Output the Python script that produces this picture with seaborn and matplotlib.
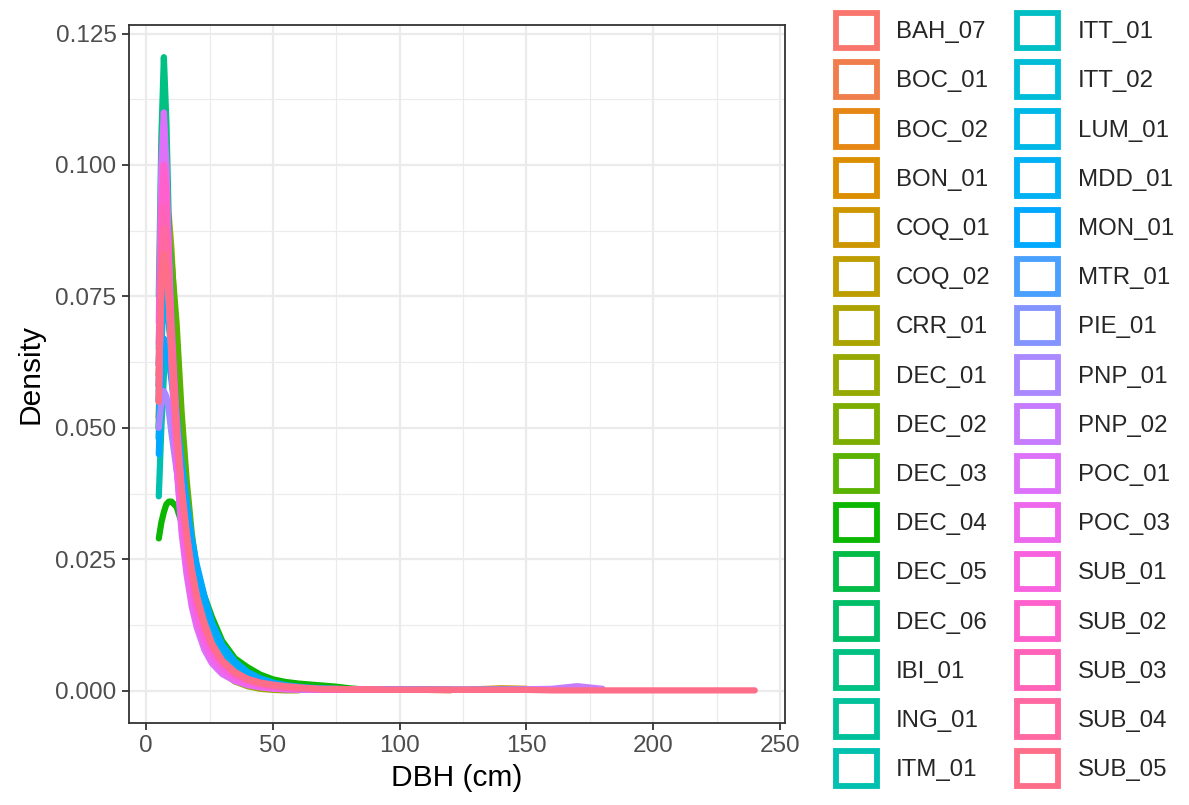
import math
import numpy as np
import pandas as pd
import matplotlib
matplotlib.use("Agg")
import matplotlib.pyplot as plt
from matplotlib.patches import Patch
import seaborn as sns

# ---------------- data ----------------
sites = ["BAH_07", "BOC_01", "BOC_02", "BON_01", "COQ_01", "COQ_02", "CRR_01",
         "DEC_01", "DEC_02", "DEC_03", "DEC_04", "DEC_05", "DEC_06", "IBI_01",
         "ING_01", "ITM_01", "ITT_01", "ITT_02", "LUM_01", "MDD_01", "MON_01",
         "MTR_01", "PIE_01", "PNP_01", "PNP_02", "POC_01", "POC_03", "SUB_01",
         "SUB_02", "SUB_03", "SUB_04", "SUB_05"]

# DBH (cm) positions at which the density curves were read
dbh_grid = [5, 6, 7, 8, 9, 10, 12, 14, 16, 18, 20, 23, 26, 30, 35, 40, 45, 50,
            55, 60, 65, 70, 75, 80, 85, 90, 95, 100, 110, 120, 130, 140, 150,
            160, 170, 180, 190, 200, 210, 220, 230, 240]

# density of each site along dbh_grid (each list stops at the site's largest DBH)
BAH_07 = [.058, .082, .090, .085, .075, .064, .047, .035, .027, .021, .016, .011, .0078, .0050, .0030, .0018, .0011, .0007,
          .0004, .0002]
BOC_01 = [.052, .075, .083, .080, .072, .063, .049, .038, .030, .023, .018, .013, .0092, .0060, .0036, .0022, .0014, .0009,
          .0006, .0004, .0003, .0003, .0002, .0002, .0002, .0002, .0002, .0002, .0002, .0001]
BOC_02 = [.060, .085, .092, .087, .076, .064, .046, .034, .026, .020, .015, .010, .0070, .0045, .0028, .0018, .0012, .0008,
          .0005, .0004, .0003, .0003, .0002, .0002, .0002, .0002, .0003, .0003]
BON_01 = [.055, .078, .086, .082, .073, .063, .048, .037, .029, .022, .017, .012, .0085, .0055, .0033, .0020, .0013, .0009,
          .0006, .0004, .0003, .0003, .0002, .0002, .0002, .0002, .0002, .0002, .0002, .0002, .0003, .0005, .0004]
COQ_01 = [.050, .072, .080, .078, .071, .063, .050, .039, .031, .024, .019, .013, .0095, .0062, .0038, .0024, .0016, .0011,
          .0008, .0006, .0004, .0003, .0003, .0002, .0002, .0002, .0002, .0002, .0002, .0002, .0002, .0002, .0002, .0002]
COQ_02 = [.062, .088, .095, .089, .077, .064, .045, .033, .025, .019, .014, .0095, .0065, .0040, .0024, .0014, .0009, .0006,
          .0004]
CRR_01 = [.055, .080, .090, .092, .090, .084, .064, .047, .035, .026, .020, .013, .0090, .0055, .0032, .0019, .0012, .0008,
          .0005, .0004, .0003, .0002]
DEC_01 = [.060, .086, .093, .088, .077, .065, .046, .034, .025, .019, .014, .0090, .0060, .0035, .0018, .0009, .0004, .0002,
          .0001, .0001]
DEC_02 = [.052, .074, .083, .082, .076, .068, .052, .039, .030, .023, .018, .012, .0085, .0052, .0030, .0018, .0011, .0007,
          .0005, .0003, .0002]
DEC_03 = [.050, .072, .083, .086, .085, .082, .070, .053, .040, .030, .023, .015, .010, .0062, .0036, .0022, .0014, .0010,
          .0007, .0005, .0004, .0003, .0002]
DEC_04 = [.029, .032, .034, .0355, .036, .036, .035, .032, .029, .026, .023, .018, .014, .0095, .0062, .0045, .0031, .0022,
          .0017, .0014, .0012, .0010, .0008, .0005, .0003]
DEC_05 = [.048, .070, .080, .080, .075, .068, .054, .042, .033, .026, .020, .014, .010, .0065, .0040, .0025, .0016, .0011,
          .0008, .0006, .0005, .0004, .0003, .0003, .0003, .0003, .0003, .0003, .0003, .0002]
DEC_06 = [.065, .092, .100, .093, .080, .067, .047, .035, .026, .020, .015, .010, .0070, .0044, .0026, .0016, .0010, .0007,
          .0005, .0004, .0003, .0002, .0002, .0002]
IBI_01 = [.075, .105, .1205, .108, .088, .070, .047, .033, .024, .018, .013, .0088, .0060, .0038, .0023, .0014, .0009, .0006,
          .0004, .0003, .0002, .0002, .0002, .0002, .0002, .0002]
ING_01 = [.058, .083, .091, .087, .077, .066, .048, .036, .027, .021, .016, .011, .0075, .0048, .0029, .0018, .0011, .0007,
          .0005, .0003, .0002, .0002]
ITM_01 = [.037, .050, .060, .064, .064, .061, .053, .044, .036, .029, .023, .016, .011, .0072, .0043, .0027, .0017, .0011,
          .0008, .0006, .0004, .0003, .0003, .0002, .0002]
ITT_01 = [.057, .081, .089, .085, .076, .065, .049, .037, .028, .022, .017, .012, .0082, .0052, .0031, .0019, .0012, .0008,
          .0006, .0004, .0003, .0003, .0002, .0002, .0002, .0002, .0002, .0002, .0002]
ITT_02 = [.062, .087, .094, .088, .077, .065, .047, .035, .026, .020, .015, .010, .0070, .0045, .0027, .0017, .0011, .0007,
          .0005, .0004, .0003, .0002, .0002, .0002, .0002, .0002, .0002]
LUM_01 = [.050, .070, .078, .077, .072, .065, .052, .041, .032, .025, .020, .014, .0098, .0064, .0039, .0024, .0015, .0010,
          .0007, .0005, .0004, .0003, .0003, .0003, .0003, .0003, .0003, .0003]
MDD_01 = [.048, .066, .074, .074, .070, .064, .052, .042, .033, .027, .021, .015, .011, .0072, .0044, .0028, .0018, .0012,
          .0009, .0007, .0005, .0004, .0003, .0003, .0003, .0003, .0003, .0003, .0002, .0002, .0002, .0003, .0003]
MON_01 = [.045, .060, .067, .066, .063, .059, .051, .043, .036, .029, .024, .018, .013, .0088, .0056, .0036, .0024, .0016,
          .0011, .0008, .0006, .0005, .0004, .0003, .0003, .0003, .0003, .0003]
MTR_01 = [.055, .077, .085, .082, .074, .065, .050, .038, .029, .022, .017, .012, .0082, .0052, .0031, .0019, .0012, .0008,
          .0005, .0004, .0003, .0002, .0002, .0002]
PIE_01 = [.055, .078, .087, .083, .074, .064, .048, .036, .027, .021, .016, .011, .0078, .0050, .0030, .0019, .0012, .0008,
          .0006, .0004, .0003, .0003, .0002, .0002, .0002, .0002, .0002, .0002, .0002, .0002, .0002, .0002]
PNP_01 = [.050, .055, .057, .056, .053, .049, .042, .035, .028, .022, .017, .012, .0080, .0050, .0030, .0018, .0011, .0007,
          .0004, .0003, .0003, .0002, .0002, .0002, .0002, .0002, .0002, .0002, .0002]
PNP_02 = [.058, .083, .092, .087, .076, .064, .046, .034, .026, .020, .015, .0105, .0072, .0046, .0027, .0016, .0010, .0007,
          .0005, .0004, .0003, .0003, .0002, .0002, .0002, .0002, .0002, .0002, .0002, .0002, .0002, .0002, .0003, .0004,
          .0009, .0004]
POC_01 = [.070, .100, .110, .100, .082, .065, .043, .030, .022, .016, .012, .0078, .0052, .0032, .0019, .0011, .0007, .0005,
          .0003, .0003, .0002, .0002, .0002, .0002, .0002, .0002, .0002, .0002, .0002, .0002, .0002, .0002, .0002, .0002]
POC_03 = [.066, .092, .098, .090, .076, .062, .043, .031, .023, .017, .013, .0088, .0060, .0037, .0021, .0012, .0007, .0004,
          .0003, .0002]
SUB_01 = [.062, .088, .096, .090, .078, .066, .047, .035, .026, .020, .015, .010, .0072, .0046, .0028, .0017, .0011, .0007,
          .0005, .0004, .0003, .0003, .0002, .0002, .0002, .0002]
SUB_02 = [.060, .090, .100, .095, .083, .070, .052, .039, .030, .023, .018, .012, .0085, .0055, .0032, .0020, .0014, .0010,
          .0007, .0005, .0004, .0003, .0002]
SUB_03 = [.058, .083, .092, .088, .078, .067, .050, .038, .029, .022, .017, .012, .0083, .0053, .0032, .0020, .0013, .0009,
          .0006, .0005, .0004, .0003, .0003, .0002, .0002, .0002, .0002, .0002]
SUB_04 = [.055, .080, .088, .085, .076, .066, .050, .038, .029, .023, .018, .012, .0088, .0057, .0035, .0022, .0014, .0010,
          .0007, .0005, .0004, .0003, .0003, .0003, .0002, .0002, .0002, .0002, .0002, .0002]
SUB_05 = [.055, .078, .083, .080, .073, .064, .049, .038, .030, .023, .018, .013, .0090, .0058, .0036, .0023, .0016, .0012,
          .0009, .0007, .0005, .0004, .0004, .0003, .0003, .0003, .0002, .0002, .0002, .0002, .0002, .0002, .0002, .0001,
          .0001, .0001, .0001, .0001, .0001, .0001, .0001, .0001]

site_values = [BAH_07, BOC_01, BOC_02, BON_01, COQ_01, COQ_02, CRR_01, DEC_01, DEC_02,
               DEC_03, DEC_04, DEC_05, DEC_06, IBI_01, ING_01, ITM_01, ITT_01, ITT_02,
               LUM_01, MDD_01, MON_01, MTR_01, PIE_01, PNP_01, PNP_02, POC_01, POC_03,
               SUB_01, SUB_02, SUB_03, SUB_04, SUB_05]

x_ticks = [0, 50, 100, 150, 200, 250]
y_ticks = [0.000, 0.025, 0.050, 0.075, 0.100, 0.125]

# ---------------- long-form table ----------------
rows = []
for s, vals in zip(sites, site_values):
    for x, y in zip(dbh_grid[:len(vals)], vals):
        rows.append((s, x, y))
df = pd.DataFrame(rows, columns=["site", "dbh", "density"])


# ggplot2 default hue palette (HCL, c=100, l=65)
def hcl_hex(h, c=100.0, l=65.0):
    hr = math.radians(h)
    U, V = c * math.cos(hr), c * math.sin(hr)
    Xn, Yn, Zn = 0.95047, 1.0, 1.08883
    Y = ((l + 16) / 116) ** 3
    den = Xn + 15 * Yn + 3 * Zn
    un, vn = 4 * Xn / den, 9 * Yn / den
    u = U / (13 * l) + un
    v = V / (13 * l) + vn
    X = 9 * Y * u / (4 * v)
    Z = -X / 3 - 5 * Y + 3 * Y / v
    r = 3.240479 * X - 1.537150 * Y - 0.498535 * Z
    g = -0.969256 * X + 1.875992 * Y + 0.041556 * Z
    b = 0.055648 * X - 0.204043 * Y + 1.057311 * Z

    def gam(t):
        t = 1.055 * t ** (1 / 2.4) - 0.055 if t > 0.0031308 else 12.92 * t
        return min(max(t, 0.0), 1.0)
    return matplotlib.colors.to_hex((gam(r), gam(g), gam(b)))


n = len(sites)
colors = [hcl_hex(15 + i * 360.0 / n) for i in range(n)]
palette = dict(zip(sites, colors))

# ---------------- styling ----------------
sns.set_style("white")
plt.rcParams["font.family"] = ["Liberation Sans", "DejaVu Sans"]

fig = plt.figure(figsize=(11.89, 8.05), dpi=100)
ax = fig.add_axes([129 / 1189, 1 - 722.6 / 805, (784.5 - 129) / 1189, (722.6 - 25.5) / 805])

sns.lineplot(data=df, x="dbh", y="density", hue="site", hue_order=sites,
             palette=palette, linewidth=4.5, estimator=None, sort=False,
             legend=False, ax=ax, solid_capstyle="round", solid_joinstyle="round")

xmin, xmax = df["dbh"].min(), df["dbh"].max()
ymin, ymax = 0.0, df["density"].max()
xr, yr = xmax - xmin, ymax - ymin
ax.set_xlim(xmin - 0.05 * xr, xmax + 0.05 * xr)
ax.set_ylim(ymin - 0.05 * yr, ymax + 0.05 * yr)

ax.set_xticks(x_ticks)
ax.set_xticklabels([str(t) for t in x_ticks])
ax.set_yticks(y_ticks)
ax.set_yticklabels([f"{t:.3f}" for t in y_ticks])
ax.set_xticks([25, 75, 125, 175, 225], minor=True)
ax.set_yticks([0.0125, 0.0375, 0.0625, 0.0875, 0.1125], minor=True)

ax.set_axisbelow(True)
ax.grid(which="major", color="#EBEBEB", linewidth=1.6)
ax.grid(which="minor", color="#EBEBEB", linewidth=0.8)
for sp in ax.spines.values():
    sp.set_color("#333333")
    sp.set_linewidth(1.3)
    sp.set_visible(True)
ax.tick_params(which="major", length=5, width=1.3, color="#333333",
               labelsize=17.5, labelcolor="#4D4D4D", pad=4, direction="out",
               bottom=True, left=True)
ax.tick_params(which="minor", length=0)

ax.set_xlabel("DBH (cm)", fontsize=21.5, color="black", labelpad=5)
ax.set_ylabel("Density", fontsize=21.5, color="black", labelpad=8)

handles = [Patch(facecolor="white", edgecolor=palette[s], linewidth=4.2, label=s) for s in sites]
fs = 17.3
fpx = fs * 100 / 72
box_w, box_h = 41.0, 35.5
# matplotlib draws the patch handle over (handleheight - descent) of the handle box
hh = (box_h / fpx - 0.245) / 0.65
fig.legend(handles=handles, loc="upper left",
           bbox_to_anchor=(835.5 / 1189, 1 - 12.75 / 805),
           ncol=2, frameon=False, fontsize=fs,
           handlelength=box_w / fpx, handleheight=hh,
           handletextpad=0.8, columnspacing=1.13, labelspacing=0.57,
           borderpad=0, borderaxespad=0)

fig.savefig("out.png", dpi=100, facecolor="white")
